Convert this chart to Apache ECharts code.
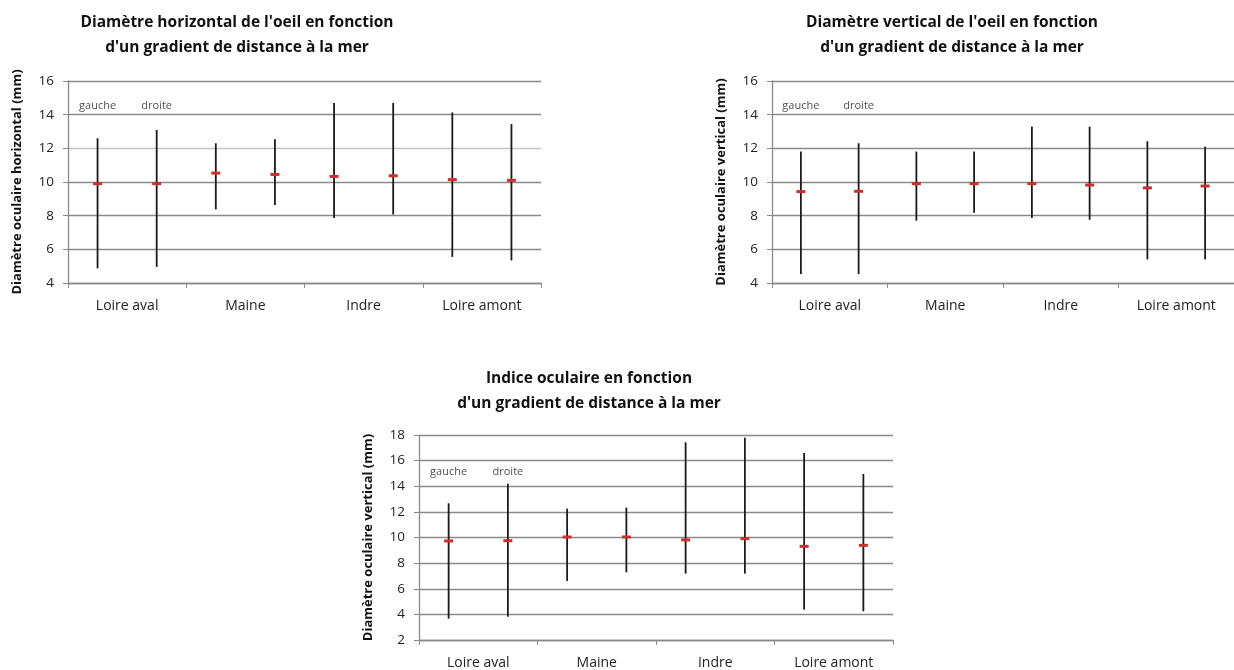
<!DOCTYPE html>
<html><head><meta charset="utf-8">
<script src="https://cdn.jsdelivr.net/npm/echarts@6/dist/echarts.min.js"></script>
<style>html,body{margin:0;padding:0;background:#fff}#c{width:1234px;height:670px}</style>
</head><body><div id="c"></div><script>
const sites = ['Loire aval', 'Maine', 'Indre', 'Loire amont'];
const slots = ['LA gauche', 'LA droite', 'Maine gauche', 'Maine droite', 'Indre gauche', 'Indre droite', 'LAm gauche', 'LAm droite'];
const sideLabels = ['gauche', 'droite'];
const yTicks1 = [4, 16, 2];
const yTicks3 = [2, 18, 2];

// Diamètre horizontal
const horizMin  = [4.87, 4.96, 8.37, 8.64, 7.86, 8.07, 5.55, 5.34];
const horizMean = [9.90, 9.90, 10.53, 10.45, 10.33, 10.37, 10.14, 10.10];
const horizMax  = [12.60, 13.09, 12.30, 12.54, 14.70, 14.70, 14.13, 13.44];
// Diamètre vertical
const vertMin  = [4.53, 4.53, 7.70, 8.17, 7.86, 7.76, 5.40, 5.40];
const vertMean = [9.43, 9.45, 9.90, 9.90, 9.90, 9.82, 9.65, 9.76];
const vertMax  = [11.81, 12.30, 11.81, 11.81, 13.29, 13.29, 12.42, 12.10];
// Indice oculaire
const indMin  = [3.67, 3.82, 6.61, 7.28, 7.18, 7.18, 4.37, 4.24];
const indMean = [9.73, 9.75, 10.04, 10.04, 9.81, 9.91, 9.31, 9.39];
const indMax  = [12.67, 14.20, 12.25, 12.33, 17.43, 17.79, 16.60, 14.96];
// annotation heights (value units)
const annotY = [14.55, 14.55, 15.1];

const titles = [
  "Diamètre horizontal de l'oeil en fonction\nd'un gradient de distance à la mer",
  "Diamètre vertical de l'oeil en fonction\nd'un gradient de distance à la mer",
  "Indice oculaire en fonction\nd'un gradient de distance à la mer"
];
const yNames = ['Diamètre oculaire horizontal (mm)', 'Diamètre oculaire vertical (mm)', 'Diamètre oculaire vertical (mm)'];

const FONT = 'Open Sans';
const charts = [
  {mins: horizMin, means: horizMean, maxs: horizMax, ticks: yTicks1, grid: {left: 68, top: 81, width: 473, height: 202}, title: {x: 232, y: 5}},
  {mins: vertMin, means: vertMean, maxs: vertMax, ticks: yTicks1, grid: {left: 772, top: 81, width: 473, height: 202}, title: {x: 947, y: 5}},
  {mins: indMin, means: indMean, maxs: indMax, ticks: yTicks3, grid: {left: 419, top: 435, width: 474, height: 207}, title: {x: 584, y: 361}}
];

function barRender(params, api) {
  const x = api.value(0);
  const lo = api.coord([x, api.value(1)]);
  const hi = api.coord([x, api.value(2)]);
  return {type: 'line', shape: {x1: lo[0], y1: lo[1], x2: hi[0], y2: hi[1]}, style: {stroke: '#1a1a1a', lineWidth: 1.8}};
}
function meanRender(params, api) {
  const p = api.coord([api.value(0), api.value(1)]);
  return {type: 'rect', shape: {x: p[0] - 4.5, y: p[1] - 1.5, width: 9, height: 3}, style: {fill: '#cc2f2a'}};
}

const option = {backgroundColor: '#fff', animation: false, title: [], grid: [], xAxis: [], yAxis: [], series: []};
charts.forEach((c, i) => {
  option.title.push({text: titles[i], left: c.title.x, top: c.title.y, textAlign: 'center',
    textStyle: {fontFamily: FONT, fontWeight: 'bold', fontSize: 15.5, color: '#111', lineHeight: 25}});
  option.grid.push(Object.assign({containLabel: false}, c.grid));
  option.xAxis.push({type: 'category', gridIndex: i, data: sites, boundaryGap: true,
    axisLine: {show: true, lineStyle: {color: '#8a8a8a', width: 1.3}},
    axisTick: {show: true, length: 5, lineStyle: {color: '#8a8a8a'}},
    axisLabel: {fontFamily: FONT, fontSize: 14, color: '#222', margin: 16},
    splitLine: {show: false}});
  option.xAxis.push({type: 'category', gridIndex: i, data: slots, show: false, boundaryGap: true});
  const splitColors = i === 0 ? ['#8a8a8a', '#8a8a8a', '#8a8a8a', '#8a8a8a', '#c4c4c4', '#8a8a8a', '#8a8a8a'] : '#8a8a8a';
  option.yAxis.push({type: 'value', gridIndex: i, min: c.ticks[0], max: c.ticks[1], interval: c.ticks[2],
    name: yNames[i], nameLocation: 'middle', nameGap: 44,
    nameTextStyle: {fontFamily: FONT, fontWeight: 'bold', fontSize: 13, color: '#111'},
    axisLine: {show: true, lineStyle: {color: '#8a8a8a', width: 1.3}},
    axisTick: {show: true, length: 5, lineStyle: {color: '#8a8a8a'}},
    axisLabel: {fontFamily: FONT, fontSize: 13.5, color: '#222', margin: 14},
    splitLine: {show: true, lineStyle: {color: splitColors, width: 1.3}}});
  const xi = i * 2 + 1;
  option.series.push({type: 'custom', xAxisIndex: xi, yAxisIndex: i, renderItem: barRender,
    data: c.mins.map((v, k) => [k, v, c.maxs[k]]), z: 3});
  option.series.push({type: 'custom', xAxisIndex: xi, yAxisIndex: i, renderItem: meanRender,
    data: c.means.map((v, k) => [k, v]), z: 4});
  option.series.push({type: 'scatter', xAxisIndex: xi, yAxisIndex: i, symbolSize: 0, silent: true,
    data: sideLabels.map((s, k) => ({value: [k, annotY[i]], name: s})),
    label: {show: true, position: 'inside', formatter: p => p.name, fontFamily: FONT, fontSize: 11, color: '#222'}});
});
echarts.init(document.getElementById('c'), null, {renderer: 'canvas'}).setOption(option);
</script></body></html>
